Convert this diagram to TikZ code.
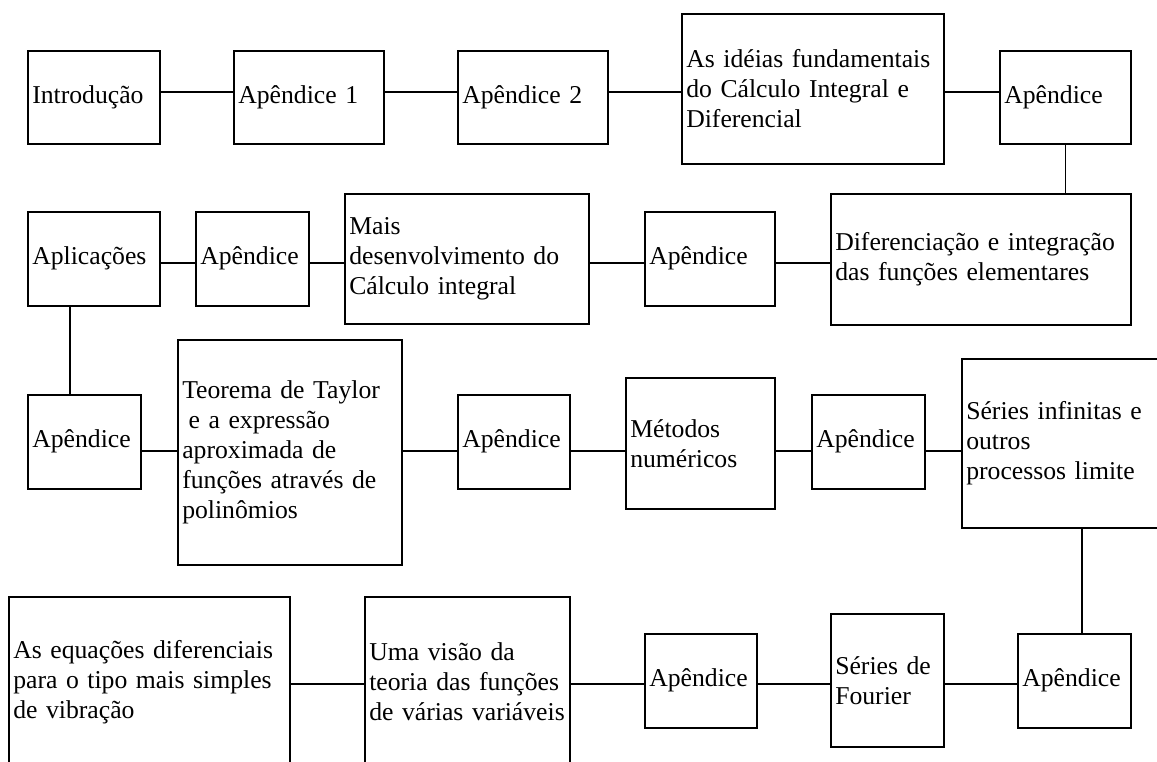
\documentclass[tikz,border=0pt]{standalone}
\usepackage{fontspec}
\setmainfont{Liberation Serif}
\usepackage{tikz}

\begin{document}
\begin{tikzpicture}[x=1pt, y=-1pt,
    box/.style={draw, line width=1.5pt, anchor=north west, inner xsep=4.5pt, inner ysep=0pt,
                align=left, font=\fontsize{25.7}{30}\selectfont}]

    \useasboundingbox (0, 0) rectangle (1157, 761);

    \node[box, text width=123pt, minimum height=93pt] (intro) at (27, 50) {Introdução};
    \node[box, text width=141pt, minimum height=93pt] (apa) at (233, 50) {Apêndice 1};
    \node[box, text width=141pt, minimum height=93pt] (apb) at (457, 50) {Apêndice 2};
    \node[box, text width=253pt, minimum height=150pt] (ideias) at (681, 13) {As idéias fundamentais\\do Cálculo Integral e\\Diferencial};
    \node[box, text width=122pt, minimum height=93pt] (apc) at (999, 50) {Apêndice};

    \node[box, text width=123pt, minimum height=94pt] (aplic) at (27, 211) {Aplicações};
    \node[box, text width=104pt, minimum height=94pt] (apd) at (195, 211) {Apêndice};
    \node[box, text width=235pt, minimum height=130pt] (mais) at (344, 193) {Mais\\desenvolvimento do\\Cálculo integral};
    \node[box, text width=121pt, minimum height=94pt] (ape) at (644, 211) {Apêndice};
    \node[box, text width=291pt, minimum height=131pt] (dif) at (830, 193) {Diferenciação e integração\\das funções elementares};

    \node[box, text width=104pt, minimum height=94pt] (apf) at (27, 394) {Apêndice};
    \node[box, text width=215pt, minimum height=225pt] (taylor) at (177, 339) {Teorema de Taylor\\\hspace*{6.4pt}e a expressão\\aproximada de\\funções através de\\polinômios};
    \node[box, text width=103pt, minimum height=94pt] (apg) at (457, 394) {Apêndice};
    \node[box, text width=140pt, minimum height=131pt] (metodos) at (625, 377) {Métodos\\numéricos};
    \node[box, text width=104pt, minimum height=94pt] (aph) at (811, 394) {Apêndice};
    \node[box, text width=211pt, minimum height=169pt] (series) at (961, 358) {Séries infinitas e\\outros\\processos limite};

    \node[box, text width=272pt, minimum height=170pt] (equacoes) at (8, 596) {As equações diferenciais\\para o tipo mais simples\\de vibração};
    \node[box, text width=196pt, minimum height=170pt] (visao) at (364, 596) {Uma visão da\\teoria das funções\\de várias variáveis};
    \node[box, text width=103pt, minimum height=94pt] (api) at (644, 633) {Apêndice};
    \node[box, text width=104pt, minimum height=133pt] (fourier) at (830, 613) {Séries de\\Fourier};
    \node[box, text width=104pt, minimum height=94pt] (apj) at (1017, 633) {Apêndice};

    % heights of the rows and x of the drops
    \coordinate (r1) at (0, 92);
    \coordinate (r2) at (0, 263);
    \coordinate (r3) at (0, 451);
    \coordinate (r4) at (0, 684);
    \coordinate (c1) at (70, 0);
    \coordinate (c2) at (1082, 0);

    \draw [line width=1.5pt] (intro.east |- r1) to (apa.west |- r1);
    \draw [line width=1.5pt] (apa.east |- r1) to (apb.west |- r1);
    \draw [line width=1.5pt] (apb.east |- r1) to (ideias.west |- r1);
    \draw [line width=1.5pt] (ideias.east |- r1) to (apc.west |- r1);
    \draw [line width=1.5pt] (apc.south) to (apc.south |- dif.north);

    \draw [line width=1.5pt] (aplic.east |- r2) to (apd.west |- r2);
    \draw [line width=1.5pt] (apd.east |- r2) to (mais.west |- r2);
    \draw [line width=1.5pt] (mais.east |- r2) to (ape.west |- r2);
    \draw [line width=1.5pt] (ape.east |- r2) to (dif.west |- r2);
    \draw [line width=1.5pt] (aplic.south -| c1) to (apf.north -| c1);

    \draw [line width=1.5pt] (apf.east |- r3) to (taylor.west |- r3);
    \draw [line width=1.5pt] (taylor.east |- r3) to (apg.west |- r3);
    \draw [line width=1.5pt] (apg.east |- r3) to (metodos.west |- r3);
    \draw [line width=1.5pt] (metodos.east |- r3) to (aph.west |- r3);
    \draw [line width=1.5pt] (aph.east |- r3) to (series.west |- r3);
    \draw [line width=1.5pt] (series.south -| c2) to (apj.north -| c2);

    \draw [line width=1.5pt] (equacoes.east |- r4) to (visao.west |- r4);
    \draw [line width=1.5pt] (visao.east |- r4) to (api.west |- r4);
    \draw [line width=1.5pt] (api.east |- r4) to (fourier.west |- r4);
    \draw [line width=1.5pt] (fourier.east |- r4) to (apj.west |- r4);

\end{tikzpicture}
\end{document}
